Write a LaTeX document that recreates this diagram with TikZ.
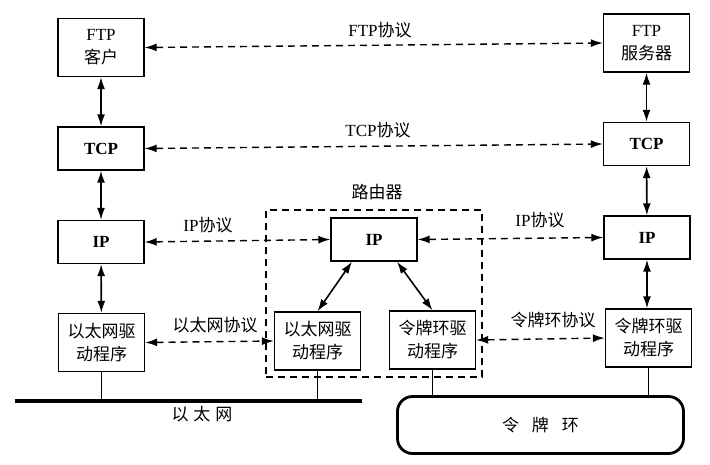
\documentclass[tikz,border=0pt]{standalone}
\usepackage{fontspec}
\setmainfont{Liberation Serif}
\newfontfamily\cjk{Noto Sans CJK SC}
\usetikzlibrary{arrows.meta,calc}
\begin{document}
\begin{tikzpicture}[x=1pt,y=-1pt,
  box/.style={draw,line width=1.4pt,minimum width=86pt,align=center,inner sep=0pt,
    font=\fontsize{17}{23}\selectfont},
  tall/.style={box,minimum height=58pt},
  short/.style={box,minimum height=43pt,font=\fontsize{17}{20}\selectfont\bfseries},
  lbl/.style={inner sep=0pt,font=\fontsize{17}{20}\selectfont},
  tip/.tip={Latex[length=12pt,width=8pt]},
  biarrow/.style={line width=1.6pt,tip-tip},
  dasharrow/.style={line width=1.4pt,dash pattern=on 7pt off 5pt,tip-tip},
  drop/.style={line width=1.1pt},
]
\useasboundingbox (0,0) rectangle (710,464);

% left host
\node[tall]  (ftpc) at (101,47.5)  {FTP\\{\cjk 客户}};
\node[short] (tcpl) at (101,148.5) {TCP};
\node[short] (ipl)  at (101,242)   {IP};
\node[tall]  (ethl) at (101.5,342.5) {{\cjk 以太网驱}\\{\cjk 动程序}};

% right host
\node[tall]  (ftps) at (646.5,43)  {FTP\\{\cjk 服务器}};
\node[short] (tcpr) at (646.5,144) {TCP};
\node[short] (ipr)  at (647,237.5) {IP};
\node[tall]  (tokr) at (648.5,338) {{\cjk 令牌环驱}\\{\cjk 动程序}};

% router
\node[draw,line width=1.4pt,dash pattern=on 7pt off 5pt,minimum width=216pt,minimum height=167pt,inner sep=0pt]
  (router) at (374,293.5) {};
\node[lbl] (routerlbl) at (377,192) {\cjk 路由器};
\node[short] (ipm)  at (374,239.5) {IP};
\node[tall]  (ethm) at (317.5,341) {{\cjk 以太网驱}\\{\cjk 动程序}};
\node[tall]  (tokm) at (432.5,340) {{\cjk 令牌环驱}\\{\cjk 动程序}};

% networks
\coordinate (ethA) at (15,401);
\coordinate (ethB) at (362,401);
\draw[line width=3.2pt] (ethA) -- (ethB);
\node[lbl] (ethlbl) at (202,414) {\cjk 以\hspace{5pt}太\hspace{5pt}网};
\node[draw,line width=2.8pt,rounded corners=15pt,minimum width=286pt,minimum height=57pt,inner sep=0pt,
  font=\fontsize{17}{20}\selectfont] (ring) at (540.5,425) {\cjk 令\hspace{13pt}牌\hspace{13pt}环};

% vertical stack arrows
\draw[biarrow] (ftpc) -- (tcpl);
\draw[biarrow] (tcpl) -- (ipl);
\draw[biarrow] (ipl) -- (ethl);
\draw[biarrow] (ftps) -- (tcpr);
\draw[biarrow] (tcpr) -- (ipr);
\draw[biarrow] (ipr.south) -- (tokr.north -| ipr.south);
\draw[biarrow] ($(ipm.south)+(-22,0)$) -- (ethm.north);
\draw[biarrow] ($(ipm.south)+(23,0)$) -- (tokm.north);

% drops to networks
\draw[drop] (ethl.south) -- (ethl.south |- ethA);
\draw[drop] (ethm.south) -- (ethm.south |- ethA);
\draw[drop] (tokm.south) -- (tokm.south |- ring.north);
\draw[drop] (tokr.south) -- (tokr.south |- ring.north);

% peer protocols
\draw[dasharrow] (ftpc.east) -- (ftps.west);
\node[lbl] (ftplbl) at (380,30) {FTP{\cjk 协议}};
\draw[dasharrow] (tcpl.east) -- (tcpr.west);
\node[lbl] (tcplbl) at (378,130) {TCP{\cjk 协议}};
\draw[dasharrow] (ipl.east) -- (ipm.west);
\node[lbl] (iplbl1) at (208,225) {IP{\cjk 协议}};
\draw[dasharrow] (ipm.east) -- (ipr.west);
\node[lbl] (iplbl2) at (540,220) {IP{\cjk 协议}};
\draw[dasharrow] (ethl.east) -- (ethm.west);
\node[lbl] (ethplbl) at (215,325) {\cjk 以太网协议};
\draw[dasharrow] (tokm.east) -- (tokr.west);
\node[lbl] (tokplbl) at (553,320) {\cjk 令牌环协议};
\end{tikzpicture}
\end{document}
